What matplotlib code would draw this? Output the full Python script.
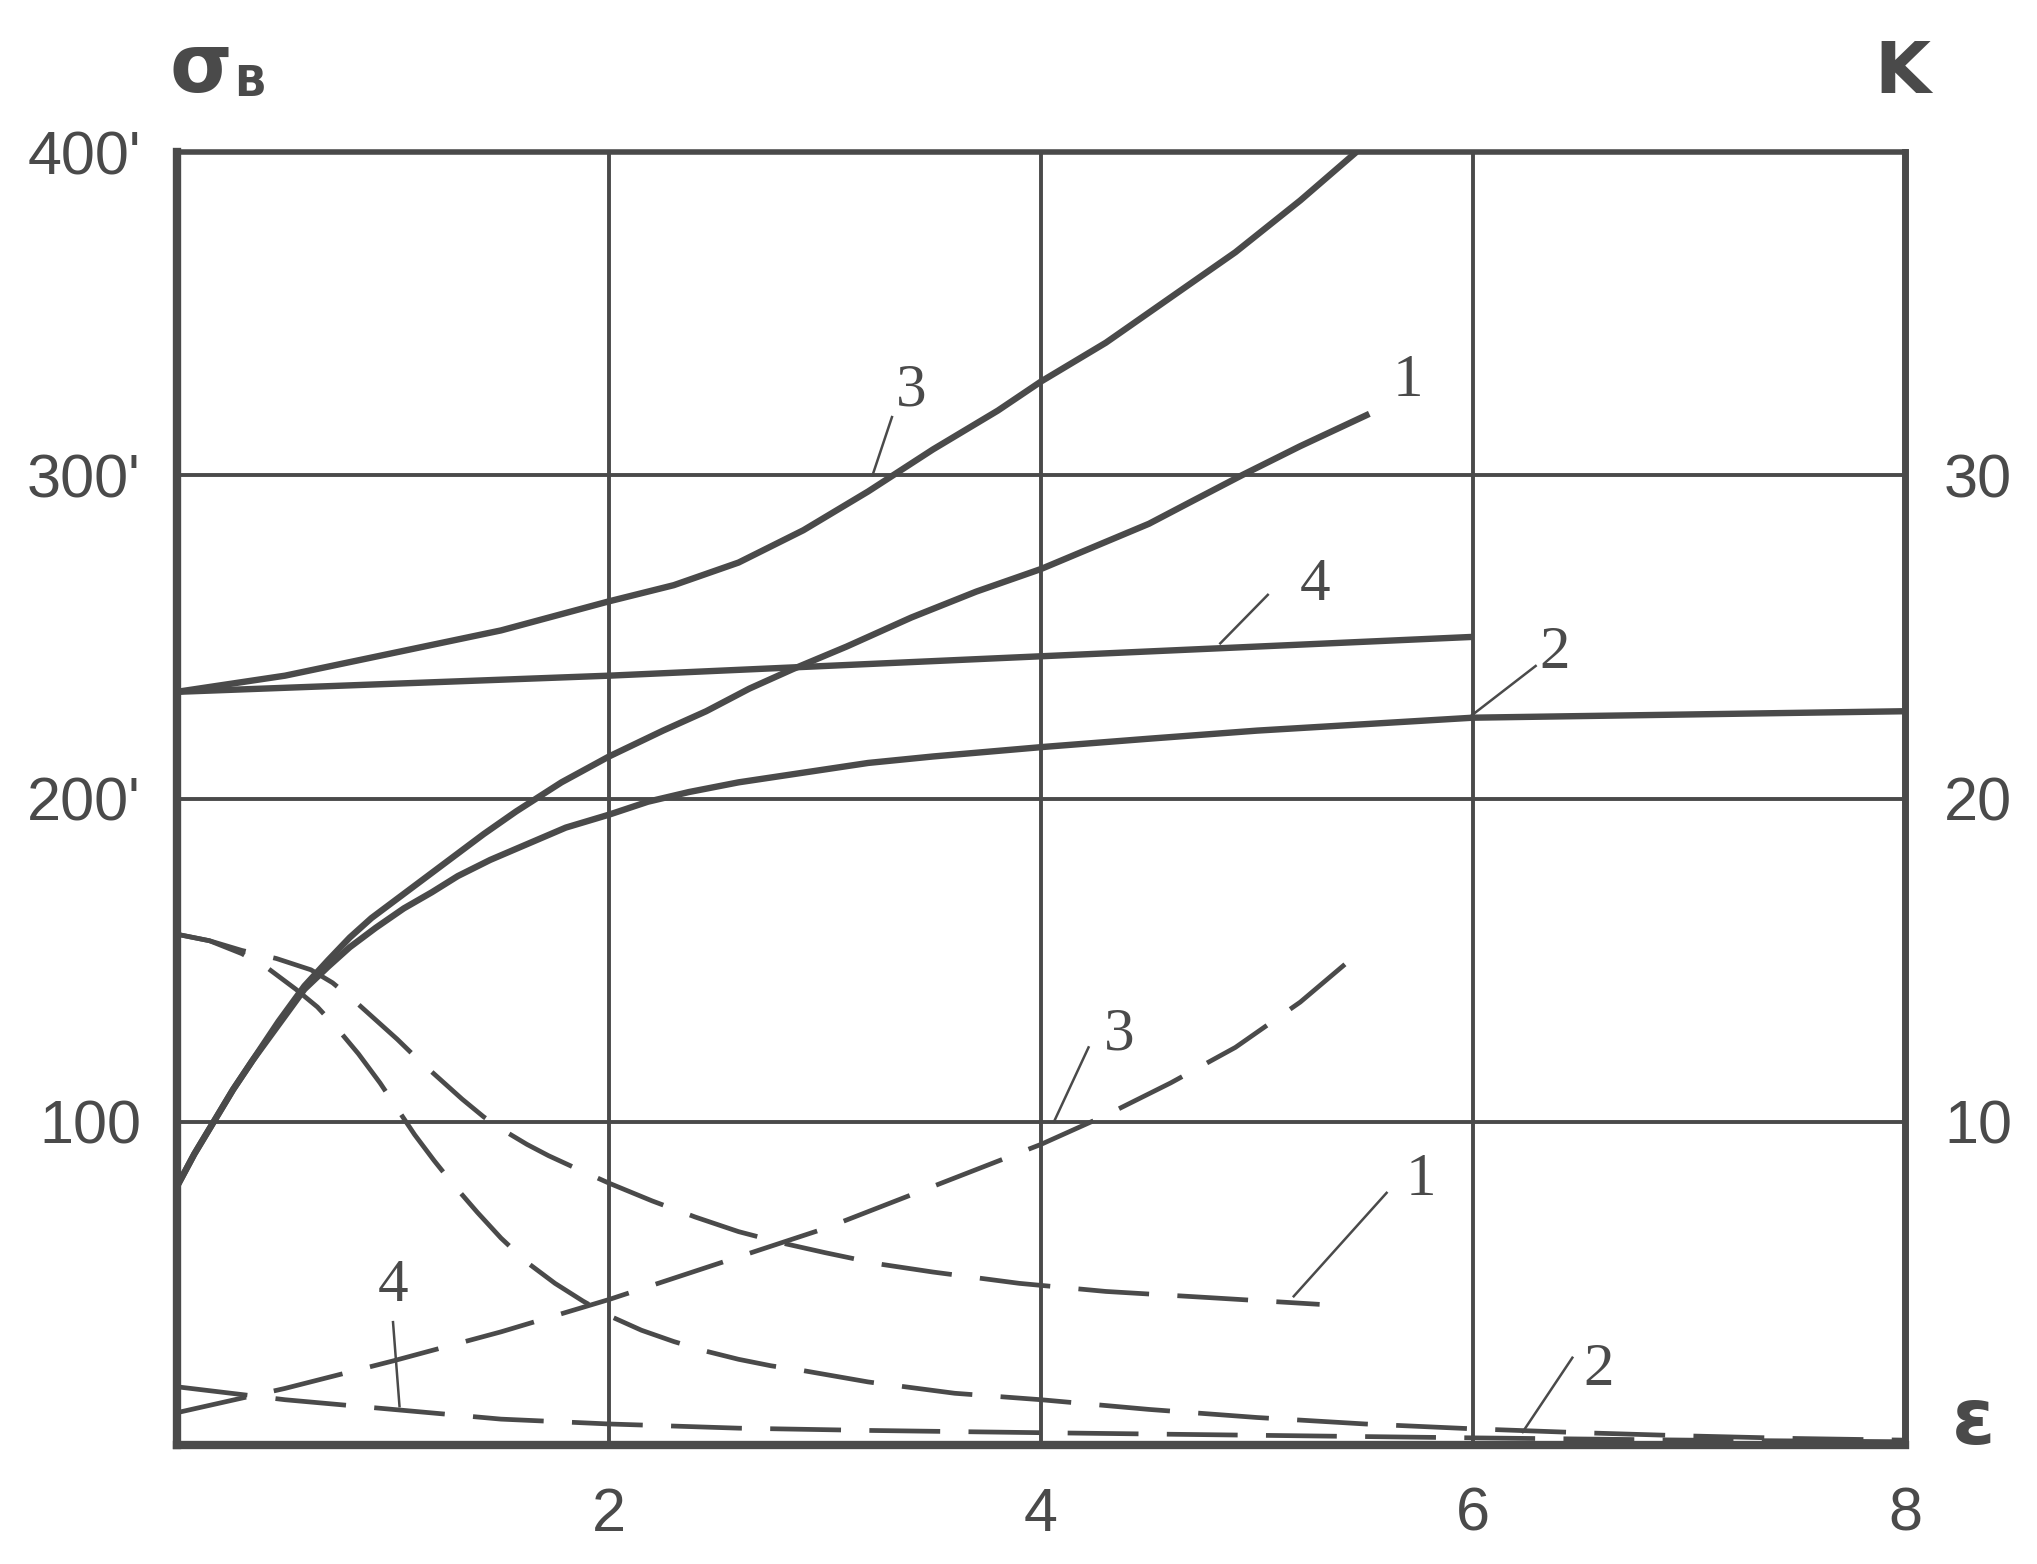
import matplotlib.pyplot as plt

# ink colour of the scanned drawing
INK = '#4a4a4a'

# strain axis
eps_ticks = [2, 4, 6, 8]
sigma_ticks = [100, 200, 300, 400]
sigma_ticklabels = ['100', "200'", "300'", "400'"]
k_ticks = [10, 20, 30]

# solid curves: sigma_B vs eps
x_s1 = [0, 0.08, 0.17, 0.26, 0.35, 0.47, 0.59, 0.7, 0.8, 0.9, 1.0, 1.14, 1.28, 1.42, 1.57, 1.78, 2.0,
        2.25, 2.45, 2.65, 2.85, 3.1, 3.4, 3.7, 4.0, 4.25, 4.5, 4.7, 4.93, 5.2, 5.52]
y_s1 = [80, 90, 100, 110, 119, 131, 142, 150, 157, 163, 168, 175, 182, 189, 196, 205, 213,
        221, 227, 234, 240, 247, 256, 264, 271, 278, 285, 292, 300, 309, 319]
x_s2 = [0, 0.08, 0.17, 0.26, 0.35, 0.47, 0.59, 0.7, 0.8, 0.92, 1.05, 1.18, 1.3, 1.45, 1.59, 1.8, 2.0,
        2.18, 2.37, 2.6, 2.9, 3.2, 3.5, 4.02, 4.5, 5.0, 5.5, 6.0, 6.5, 7.0, 7.5, 8.0]
y_s2 = [80, 90, 100, 110, 119, 130, 141, 148, 154, 160, 166, 171, 176, 181, 185, 191, 195,
        199, 202, 205, 208, 211, 213, 216, 218.5, 221, 223, 225, 225.5, 226, 226.5, 227]
x_s3 = [0, 0.5, 1.0, 1.5, 2.0, 2.3, 2.6, 2.9, 3.2, 3.5, 3.8, 4.0, 4.3, 4.6, 4.9, 5.2, 5.46]
y_s3 = [233, 238, 245, 252, 261, 266, 273, 283, 295, 308, 320, 329, 341, 355, 369, 385, 400]
x_s4 = [0, 2, 4, 6]
y_s4 = [233, 238, 244, 250]

# dashed curves: K vs eps (drawn on the sigma scale, K = sigma / 10)
x_d1 = [0, 0.15, 0.3, 0.46, 0.62, 0.72, 0.82, 0.92, 1.02, 1.12, 1.22, 1.32, 1.42, 1.52, 1.62, 1.72,
        1.85, 2.0, 2.2, 2.4, 2.6, 2.8, 3.0, 3.25, 3.5, 3.9, 4.3, 4.8, 5.29]
y_d1 = [158, 156, 153, 150.5, 147, 143, 137.5, 131.5, 125.5, 119, 113, 107, 101.5, 97, 93, 89.5,
        85.5, 81, 75.5, 70.5, 66, 62.5, 59.5, 56, 53.5, 50, 47.5, 45.5, 43.5]
x_d2 = [0, 0.15, 0.3, 0.42, 0.55, 0.65, 0.74, 0.84, 0.94, 1.02, 1.1, 1.19, 1.28, 1.39, 1.5, 1.62,
        1.75, 1.88, 2.0, 2.15, 2.3, 2.45, 2.6, 2.75, 2.9, 3.2, 3.6, 4.0, 4.5, 5.0, 5.5, 6.0, 6.5,
        7.0, 7.5, 8.0]
y_d2 = [158, 156, 152, 147.5, 141, 135.5, 129, 121, 112, 104, 96, 88, 80.5, 72, 64, 56.5,
        50, 44.5, 40, 35.5, 32, 29, 26.5, 24.5, 23, 19.5, 16, 14, 11, 8.5, 6.5, 5, 3.8,
        2.8, 2, 1.5]
x_d3 = [0, 0.5, 1, 1.5, 2, 2.5, 3, 3.5, 4, 4.3, 4.6, 4.9, 5.2, 5.43]
y_d3 = [10, 17.5, 26, 35, 45, 56, 67, 80, 93, 102, 112, 123, 137, 150]
x_d4 = [0, 0.5, 1.0, 1.5, 2.0, 2.6, 3.2, 4.0, 5.0, 6.0, 7.0, 8.0]
y_d4 = [18, 14, 11, 8, 6.5, 5.2, 4.5, 3.8, 3, 2.2, 1.5, 1]

# curve numbers: text, label position, leader start, leader end (None = no leader)
labels = [
    ('3', (3.40, 326), (3.31, 318), (3.22, 300)),
    ('1', (5.70, 329), None, None),
    ('4', (5.27, 266), (5.05, 263), (4.83, 248)),
    ('2', (6.38, 245), (6.29, 241), (5.98, 225)),
    ('3', (4.36, 127), (4.22, 123), (4.06, 100)),
    ('1', (5.76, 82), (5.60, 78), (5.17, 46)),
    ('4', (1.00, 49), (1.00, 38), (1.03, 12)),
    ('2', (6.58, 23), (6.46, 27), (6.23, 4)),
]

fig = plt.figure(figsize=(20.37, 15.64), dpi=100)
ax = fig.add_axes([0.0869, 0.0761, 0.8483, 0.8267])
ax.set_xlim(0, 8)
ax.set_ylim(0, 400)

# grid
for gx in eps_ticks[:-1]:
    ax.axvline(gx, color=INK, lw=2.8, zorder=1)
for gy in sigma_ticks[:-1]:
    ax.axhline(gy, color=INK, lw=2.8, zorder=1)

# solid curves
for xs, ys in [(x_s1, y_s1), (x_s2, y_s2), (x_s3, y_s3), (x_s4, y_s4)]:
    ax.plot(xs, ys, color=INK, lw=4.6, solid_capstyle='butt', solid_joinstyle='round', zorder=3)

# dashed curves
for xs, ys in [(x_d1, y_d1), (x_d2, y_d2), (x_d3, y_d3), (x_d4, y_d4)]:
    ax.plot(xs, ys, color=INK, lw=3.4, linestyle=(0, (15, 6)), dash_capstyle='butt',
            dash_joinstyle='round', zorder=3)

# curve numbers with leaders
for txt, pos, l0, l1 in labels:
    ax.text(pos[0], pos[1], txt, fontsize=44, color=INK, ha='center', va='center',
            family=['Liberation Serif', 'DejaVu Serif'], zorder=4)
    if l0 is not None:
        ax.plot([l0[0], l1[0]], [l0[1], l1[1]], color=INK, lw=1.8, zorder=4)

# ticks and labels
ax.set_xticks(eps_ticks)
ax.set_xticklabels([str(t) for t in eps_ticks], fontsize=44, color=INK,
                   family=['Liberation Sans Narrow', 'Liberation Sans', 'DejaVu Sans'])
ax.set_yticks(sigma_ticks)
ax.set_yticklabels(sigma_ticklabels, fontsize=44, color=INK,
                   family=['Liberation Sans', 'DejaVu Sans'])
ax.tick_params(axis='x', length=0, pad=30)
ax.tick_params(axis='y', length=0, pad=26)

for side, w in [('left', 6), ('bottom', 6), ('right', 5), ('top', 4)]:
    ax.spines[side].set_linewidth(w)
    ax.spines[side].set_color(INK)

ax2 = ax.twinx()
ax2.set_ylim(0, 40)
ax2.set_yticks(k_ticks)
ax2.set_yticklabels([str(t) for t in k_ticks], fontsize=44, color=INK,
                    family=['Liberation Sans', 'DejaVu Sans'])
ax2.tick_params(axis='y', length=0, pad=28)
for s in ax2.spines.values():
    s.set_visible(False)

# axis titles
fig.text(0.0985, 0.955, 'σ', fontsize=58, fontweight='bold', color=INK, ha='center', va='center')
fig.text(0.1225, 0.946, 'B', fontsize=30, fontweight='bold', color=INK, ha='center', va='center')
fig.text(0.9337, 0.953, 'K', fontsize=52, fontweight='bold', color=INK, ha='center', va='center')
fig.text(0.9686, 0.0905, 'ε', fontsize=56, fontweight='bold', color=INK, ha='center', va='center')

fig.savefig('out.png', dpi=100, facecolor='white')
